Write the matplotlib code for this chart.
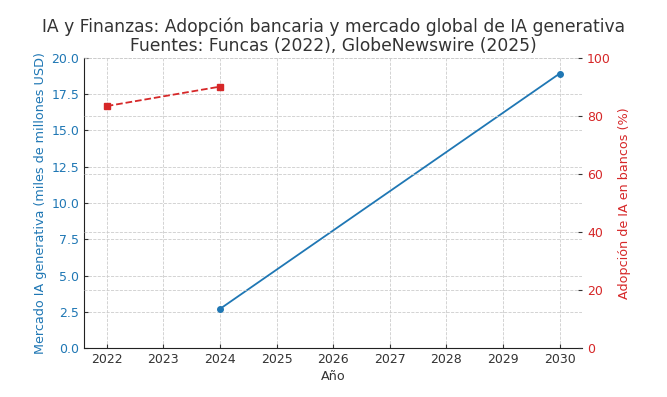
import matplotlib
matplotlib.use("Agg")
import matplotlib.pyplot as plt

years_mkt = [2024, 2030]
mkt_values = [2.7, 18.9]
years_adop = [2022, 2024]
adop_values = [83.3, 90.0]
xticks = list(range(2022, 2031))

blue = "#1f77b4"
red = "#d62728"
txt = "#333333"

fig, ax = plt.subplots(figsize=(6.67, 3.97), dpi=100)
fig.subplots_adjust(left=0.126, right=0.873, top=0.855, bottom=0.123)

ax.plot(years_mkt, mkt_values, color=blue, marker="o", markersize=4, linewidth=1.3)
ax.set_ylim(0, 20)
ax.set_yticks([0, 2.5, 5, 7.5, 10, 12.5, 15, 17.5, 20])
ax.set_xticks(xticks)
ax.set_xlabel("Año", color=txt, fontsize=9.2, labelpad=3)
ax.set_ylabel("Mercado IA generativa (miles de millones USD)", color=blue, fontsize=9.2, labelpad=3)
ax.tick_params(axis="both", direction="in", length=3, width=0.8, color="#333333", labelsize=9)
ax.tick_params(axis="y", labelcolor=blue)
ax.tick_params(axis="x", labelcolor=txt)
ax.grid(True, linestyle="--", linewidth=0.6, color="#cccccc")
for s in ["top", "right"]:
    ax.spines[s].set_visible(False)
for s in ["left", "bottom"]:
    ax.spines[s].set_color("#222222")

ax2 = ax.twinx()
ax2.plot(years_adop, adop_values, color=red, marker="s", markersize=4, linewidth=1.3, linestyle="--")
ax2.set_ylim(0, 100)
ax2.set_yticks([0, 20, 40, 60, 80, 100])
ax2.set_ylabel("Adopción de IA en bancos (%)", color=red, fontsize=9.2, labelpad=5)
ax2.tick_params(axis="y", direction="in", length=3, width=0.8, color="#333333", labelcolor=red, labelsize=9)
ax2.grid(True, linestyle="--", linewidth=0.6, color="#cccccc")
for s in ["top", "right", "left", "bottom"]:
    ax2.spines[s].set_visible(False)

ax.set_title("IA y Finanzas: Adopción bancaria y mercado global de IA generativa\nFuentes: Funcas (2022), GlobeNewswire (2025)",
             color=txt, fontsize=12.3, linespacing=1.05, pad=5)

fig.savefig("out.png", dpi=100)
